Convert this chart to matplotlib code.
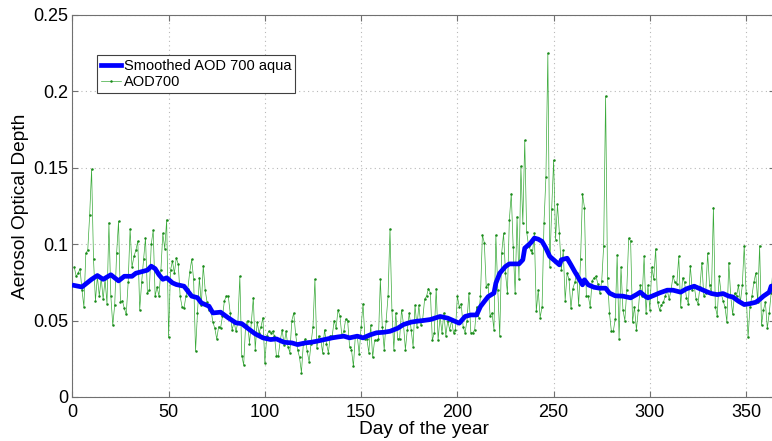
import numpy as np
import matplotlib
matplotlib.use("Agg")
import matplotlib.pyplot as plt

plt.rcParams['font.family'] = ['Liberation Sans', 'DejaVu Sans']

# daily AOD at 700 nm, day 1..365
aod700 = [
    0.085, 0.079, 0.081, 0.084, 0.070, 0.059, 0.094, 0.096, 0.119, 0.149,
    0.090, 0.063, 0.079, 0.066, 0.078, 0.064, 0.077, 0.061, 0.114, 0.066,
    0.047, 0.060, 0.094, 0.115, 0.062, 0.063, 0.058, 0.054, 0.075, 0.110,
    0.085, 0.092, 0.096, 0.102, 0.057, 0.075, 0.090, 0.104, 0.068, 0.070,
    0.100, 0.109, 0.066, 0.072, 0.066, 0.083, 0.107, 0.097, 0.116, 0.039,
    0.083, 0.089, 0.081, 0.091, 0.087, 0.066, 0.059, 0.058, 0.066, 0.071,
    0.082, 0.090, 0.077, 0.030, 0.055, 0.078, 0.060, 0.086, 0.070, 0.062,
    0.057, 0.057, 0.049, 0.045, 0.038, 0.046, 0.045, 0.053, 0.063, 0.066,
    0.066, 0.055, 0.044, 0.049, 0.043, 0.049, 0.079, 0.027, 0.021, 0.047,
    0.050, 0.035, 0.049, 0.065, 0.031, 0.049, 0.042, 0.046, 0.052, 0.022,
    0.040, 0.043, 0.042, 0.043, 0.040, 0.027, 0.027, 0.037, 0.044, 0.034,
    0.043, 0.033, 0.029, 0.050, 0.055, 0.041, 0.031, 0.026, 0.016, 0.035,
    0.038, 0.030, 0.023, 0.035, 0.046, 0.077, 0.032, 0.040, 0.038, 0.029,
    0.044, 0.035, 0.029, 0.040, 0.040, 0.050, 0.045, 0.057, 0.053, 0.040,
    0.043, 0.051, 0.050, 0.033, 0.031, 0.020, 0.040, 0.040, 0.028, 0.046,
    0.061, 0.038, 0.038, 0.029, 0.047, 0.026, 0.037, 0.037, 0.038, 0.077,
    0.046, 0.031, 0.050, 0.066, 0.110, 0.057, 0.031, 0.055, 0.038, 0.038,
    0.057, 0.048, 0.031, 0.044, 0.055, 0.044, 0.033, 0.060, 0.046, 0.060,
    0.047, 0.051, 0.064, 0.066, 0.071, 0.068, 0.037, 0.042, 0.071, 0.037,
    0.053, 0.042, 0.055, 0.040, 0.050, 0.044, 0.050, 0.042, 0.044, 0.066,
    0.059, 0.061, 0.046, 0.042, 0.050, 0.068, 0.042, 0.042, 0.044, 0.059,
    0.052, 0.066, 0.106, 0.101, 0.072, 0.074, 0.053, 0.055, 0.044, 0.106,
    0.070, 0.040, 0.094, 0.107, 0.081, 0.068, 0.116, 0.133, 0.098, 0.068,
    0.118, 0.077, 0.151, 0.114, 0.168, 0.108, 0.099, 0.096, 0.094, 0.107,
    0.056, 0.070, 0.052, 0.059, 0.114, 0.144, 0.225, 0.085, 0.123, 0.155,
    0.103, 0.126, 0.107, 0.083, 0.096, 0.063, 0.081, 0.077, 0.058, 0.071,
    0.075, 0.081, 0.060, 0.090, 0.133, 0.124, 0.066, 0.066, 0.059, 0.076,
    0.078, 0.079, 0.074, 0.068, 0.076, 0.099, 0.197, 0.078, 0.055, 0.043,
    0.043, 0.051, 0.093, 0.038, 0.085, 0.057, 0.050, 0.070, 0.104, 0.102,
    0.049, 0.059, 0.044, 0.057, 0.073, 0.066, 0.092, 0.055, 0.073, 0.057,
    0.085, 0.077, 0.097, 0.062, 0.057, 0.060, 0.062, 0.066, 0.070, 0.064,
    0.070, 0.079, 0.075, 0.074, 0.092, 0.059, 0.078, 0.075, 0.065, 0.061,
    0.086, 0.070, 0.073, 0.064, 0.061, 0.072, 0.088, 0.066, 0.068, 0.094,
    0.073, 0.068, 0.124, 0.059, 0.053, 0.079, 0.068, 0.063, 0.059, 0.049,
    0.088, 0.066, 0.054, 0.068, 0.066, 0.073, 0.062, 0.073, 0.099, 0.068,
    0.039, 0.059, 0.066, 0.075, 0.081, 0.062, 0.099, 0.047, 0.057, 0.062,
    0.045, 0.055, 0.068, 0.085, 0.072,
]
days = np.arange(1, len(aod700) + 1)

# smoothed curve, sampled along the thick blue line
smooth_day = [1, 3, 5, 8, 10, 13, 16, 20, 24, 27,
              31, 33, 36, 39, 41, 43, 45, 47, 49, 52,
              54, 58, 62, 65, 67, 71, 73, 77, 81, 85,
              88, 92, 95, 99, 103, 106, 110, 114, 117, 121,
              124, 127, 131, 135, 138, 141, 144, 148, 151, 155,
              158, 162, 165, 169, 172, 176, 179, 182, 186, 191,
              195, 199, 201, 204, 207, 210, 212, 214, 216, 219,
              220, 222, 225, 227, 232, 234, 235, 238, 240, 242,
              244, 246, 248, 251, 253, 254, 257, 259, 261, 263,
              265, 266, 268, 271, 274, 277, 279, 282, 286, 290,
              293, 295, 298, 299, 303, 305, 309, 312, 316, 319,
              323, 325, 329, 332, 335, 338, 341, 343, 346, 349,
              352, 355, 357, 359, 362, 363, 365]
smooth_aod = [0.073, 0.0725, 0.072, 0.075, 0.077, 0.0795, 0.077, 0.080, 0.076, 0.079,
              0.079, 0.081, 0.082, 0.083, 0.0856, 0.084, 0.080, 0.077, 0.078, 0.0747,
              0.0736, 0.0725, 0.066, 0.065, 0.0616, 0.0594, 0.055, 0.0555, 0.0518, 0.0485,
              0.048, 0.0441, 0.0413, 0.0387, 0.0376, 0.038, 0.0358, 0.0354, 0.0343, 0.0354,
              0.0358, 0.0365, 0.0376, 0.0387, 0.0393, 0.0398, 0.0387, 0.0398, 0.0387, 0.0408,
              0.042, 0.0424, 0.043, 0.045, 0.0474, 0.049, 0.0496, 0.050, 0.0507, 0.0527,
              0.0516, 0.0494, 0.0483, 0.0527, 0.0537, 0.0537, 0.0592, 0.0625, 0.0657, 0.068,
              0.0745, 0.081, 0.0854, 0.0871, 0.0871, 0.0898, 0.0974, 0.1007, 0.104, 0.1033,
              0.1018, 0.0974, 0.092, 0.0887, 0.0865, 0.0898, 0.0908, 0.0865, 0.082, 0.0778,
              0.0734, 0.0767, 0.0734, 0.0718, 0.0712, 0.0712, 0.068, 0.0662, 0.066, 0.0649,
              0.067, 0.0686, 0.0655, 0.0649, 0.067, 0.0681, 0.0699, 0.0699, 0.0686, 0.0708,
              0.0725, 0.0714, 0.0692, 0.0677, 0.067, 0.0677, 0.066, 0.0655, 0.0627, 0.0605,
              0.0611, 0.062, 0.0638, 0.066, 0.0686, 0.0725, 0.073]

x_ticks = [0, 50, 100, 150, 200, 250, 300, 350]
y_ticks = [0, 0.05, 0.1, 0.15, 0.2, 0.25]
y_labels = ['0', '0.05', '0.1', '0.15', '0.2', '0.25']

fig = plt.figure(figsize=(7.72, 4.41), dpi=100)
ax = fig.add_axes([0.0937, 0.0998, 0.9102, 0.8662])

ax.plot(smooth_day, smooth_aod, color='#0000ff', lw=3.4,
        solid_joinstyle='round', label='Smoothed AOD 700 aqua', zorder=3)
ax.plot(days, aod700, '.-', color='#3aaa3a', lw=0.5, ms=1.6,
        mfc='#1a8a1a', mec='#1a8a1a', label='AOD700', zorder=2)

ax.set_xlim(0, 365)
ax.set_ylim(0, 0.25)
ax.set_xticks(x_ticks)
ax.set_yticks(y_ticks)
ax.set_yticklabels(y_labels)

ax.grid(True, linestyle=(0, (1, 3)), color='#b8b8b8', lw=0.8)
ax.tick_params(direction='in', length=4, top=True, right=True,
               color='#707070', labelsize=13)
ax.tick_params(axis='x', pad=5)
ax.tick_params(axis='y', pad=3)
for sp in ax.spines.values():
    sp.set_color('#707070')
    sp.set_linewidth(0.8)

ax.set_xlabel('Day of the year', fontsize=13.8, labelpad=0)
ax.set_ylabel('Aerosol Optical Depth', fontsize=13.8, labelpad=3)

leg = ax.legend(loc='upper left', bbox_to_anchor=(0.035, 0.895),
                borderaxespad=0, fontsize=10.5, fancybox=False,
                framealpha=1, edgecolor='#404040', handlelength=1.4,
                handletextpad=0.2, labelspacing=0.15, borderpad=0.25)
leg.get_frame().set_linewidth(0.8)

fig.savefig('out.png', dpi=100)
